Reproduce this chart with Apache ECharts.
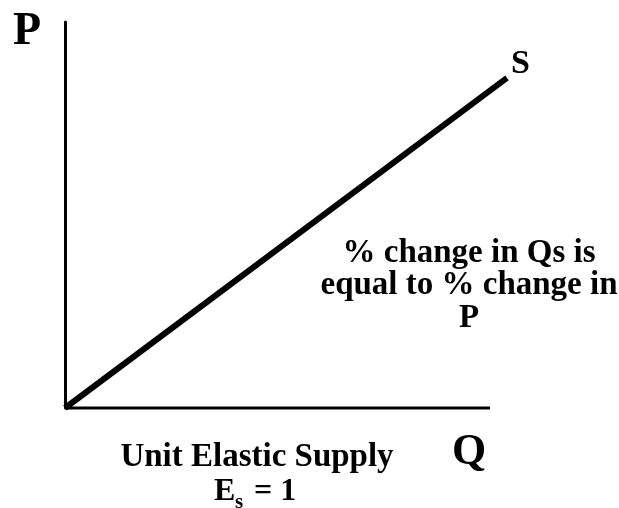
<!DOCTYPE html>
<html>
<head>
<meta charset="utf-8">
<style>
  html, body { margin: 0; padding: 0; background: #fff; }
  #chart { width: 619px; height: 508px; }
</style>
<script src="https://cdn.jsdelivr.net/npm/echarts@6/dist/echarts.min.js"></script>
</head>
<body>
<div id="chart"></div>
<script>
// Supply curve through the origin: quantity and price share the same proportions
const supplyQ = [0, 104];
const supplyP = [0, 85.5];

// Horizontal quantity axis, drawn up to Q = 100
const qAxisQ = [0, 100];
const qAxisP = [0, 0];

const noteLines = ['% change in Qs is', 'equal to % change in', 'P'];
const captionTitle = 'Unit Elastic Supply';

const serif = '"Liberation Serif", "Times New Roman", serif';

const chart = echarts.init(document.getElementById('chart'), null, { renderer: 'canvas' });

function txt(x, y, text, size, align) {
  return {
    type: 'text',
    x: x, y: y,
    style: {
      text: text,
      font: 'bold ' + size + 'px ' + serif,
      fill: '#000',
      align: align || 'left',
      verticalAlign: 'alphabetic'
    },
    silent: true
  };
}

chart.setOption({
  animation: false,
  backgroundColor: '#fff',
  grid: { left: 65, right: 112, top: 22, bottom: 100 },
  xAxis: {
    type: 'value', min: 0, max: 104,
    axisLine: { show: false },
    axisTick: { show: false }, axisLabel: { show: false }, splitLine: { show: false }
  },
  yAxis: {
    type: 'value', min: 0, max: 100,
    axisLine: { show: true, onZero: false, lineStyle: { color: '#000', width: 3 } },
    axisTick: { show: false }, axisLabel: { show: false }, splitLine: { show: false }
  },
  series: [
    {
      type: 'line',
      data: qAxisQ.map((q, i) => [q, qAxisP[i]]),
      symbol: 'none',
      clip: false,
      lineStyle: { color: '#000', width: 3, cap: 'butt' },
      z: 1
    },
    {
      type: 'line',
      data: supplyQ.map((q, i) => [q, supplyP[i]]),
      symbol: 'none',
      clip: false,
      lineStyle: { color: '#000', width: 6, cap: 'butt' },
      z: 2
    }
  ],
  graphic: [
    txt(13, 9, 'P', 46),
    txt(511, 47, 'S', 34),
    txt(452, 431, 'Q', 44),
    txt(469, 237, noteLines[0], 33, 'center'),
    txt(469, 269, noteLines[1], 33, 'center'),
    txt(469, 302, noteLines[2], 33, 'center'),
    txt(257, 441, captionTitle, 33, 'center'),
    txt(214, 476, 'E', 32),
    txt(235, 492, 's', 21),
    txt(254, 476, '= 1', 32)
  ]
});
</script>
</body>
</html>
